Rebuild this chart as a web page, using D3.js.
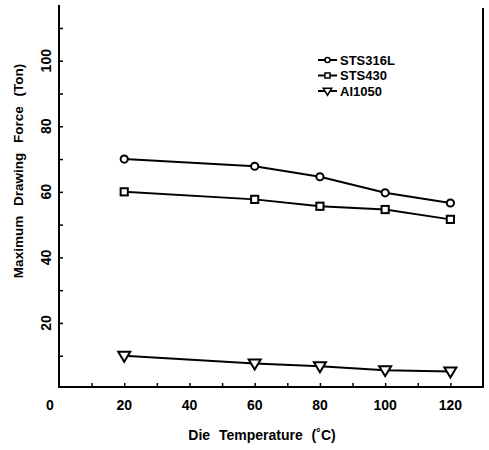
<!DOCTYPE html>
<html>
<head>
<meta charset="utf-8">
<script src="https://cdn.jsdelivr.net/npm/d3@7"></script>
<style>
  body { margin: 0; background: #fff; }
  svg text { font-family: "Liberation Sans", Arial, sans-serif; font-weight: bold; fill: #000; }
</style>
</head>
<body>
<div id="chart"></div>
<script>
const temps = [20, 60, 80, 100, 120]
const sts316L = [70, 67.8, 64.6, 59.7, 56.6]
const sts430 = [60, 57.7, 55.6, 54.6, 51.6]
const al1050 = [10, 7.6, 6.8, 5.6, 5.2]
const seriesNames = ['STS316L', 'STS430', 'Al1050']
const xTickLabels = [20, 40, 60, 80, 100, 120]
const yTickLabels = [20, 40, 60, 80, 100]

const width = 489
const height = 450
const margin = {top: 5, right: 6, bottom: 62, left: 59}

const x = d3.scaleLinear().domain([0, 130]).range([margin.left, width - margin.right])
const y = d3.scaleLinear().domain([0, 117]).range([388.5, 5])

const svg = d3.select('#chart').append('svg')
  .attr('width', width)
  .attr('height', height)

// frame: left, bottom, right
const x0 = x(0), x1 = x(130), yb = 387
svg.append('path')
  .attr('d', `M${x0},${y(117)}V${yb}H${x1}V8`)
  .attr('fill', 'none')
  .attr('stroke', '#000')
  .attr('stroke-width', 2)

// minor ticks, inward
const yAxis = d3.axisRight(y).tickValues(d3.range(10, 111, 10)).tickSize(4).tickFormat('')
svg.append('g').attr('transform', `translate(${x0},0)`).call(yAxis)
  .call(g => g.select('.domain').remove())
  .call(g => g.selectAll('line').attr('stroke', '#000').attr('stroke-width', 1.5))

const xAxis = d3.axisTop(x).tickValues(d3.range(10, 121, 10)).tickSize(4).tickFormat('')
svg.append('g').attr('transform', `translate(0,${yb})`).call(xAxis)
  .call(g => g.select('.domain').remove())
  .call(g => g.selectAll('line').attr('stroke', '#000').attr('stroke-width', 1.5))

// tick labels
svg.append('g').selectAll('text').data(xTickLabels).join('text')
  .attr('x', d => x(d))
  .attr('y', 410)
  .attr('text-anchor', 'middle')
  .attr('font-size', 14)
  .text(d => d)
svg.append('text')
  .attr('x', 50).attr('y', 410)
  .attr('text-anchor', 'middle').attr('font-size', 14).text('0')

svg.append('g').selectAll('text').data(yTickLabels).join('text')
  .attr('transform', d => `translate(51,${y(d)}) rotate(-90)`)
  .attr('text-anchor', 'middle')
  .attr('font-size', 14)
  .text(d => d)

// axis titles
svg.append('text')
  .attr('x', 262).attr('y', 440)
  .attr('text-anchor', 'middle')
  .attr('font-size', 14)
  .attr('word-spacing', 5)
  .text('Die Temperature (˚C)')

svg.append('text')
  .attr('transform', 'translate(23,171) rotate(-90)')
  .attr('text-anchor', 'middle')
  .attr('font-size', 13.5)
  .attr('word-spacing', 6)
  .text('Maximum Drawing Force (Ton)')

// series
const line = d3.line().x((d, i) => x(temps[i])).y(d => y(d))
const allSeries = [sts316L, sts430, al1050]
allSeries.forEach(vals => {
  svg.append('path')
    .datum(vals)
    .attr('d', line)
    .attr('fill', 'none')
    .attr('stroke', '#000')
    .attr('stroke-width', 2)
})

function marker(g, type, cx, cy, s) {
  if (type === 0) {
    g.append('circle').attr('cx', cx).attr('cy', cy).attr('r', 3.6 * s)
  } else if (type === 1) {
    g.append('rect').attr('x', cx - 3.6 * s).attr('y', cy - 3.6 * s).attr('width', 7.2 * s).attr('height', 7.2 * s)
  } else {
    g.append('path').attr('d', `M${cx - 6 * s},${cy - 4 * s}H${cx + 6 * s}L${cx},${cy + 6 * s}Z`)
  }
}

const markers = svg.append('g').attr('fill', '#fff').attr('stroke', '#000').attr('stroke-width', 2)
allSeries.forEach((vals, k) => {
  vals.forEach((v, i) => marker(markers, k, x(temps[i]), y(v), 1))
})

// legend
const legend = svg.append('g')
seriesNames.forEach((name, k) => {
  const ly = 60 + k * 15.5
  legend.append('line')
    .attr('x1', 318).attr('x2', 337).attr('y1', ly).attr('y2', ly)
    .attr('stroke', '#000').attr('stroke-width', 2)
  const mg = legend.append('g').attr('fill', '#fff').attr('stroke', '#000').attr('stroke-width', 1.5)
  marker(mg, k, 327.5, ly, 0.7)
  legend.append('text')
    .attr('x', 340).attr('y', ly + 4.5)
    .attr('font-size', 13)
    .text(name)
})
</script>
</body>
</html>
